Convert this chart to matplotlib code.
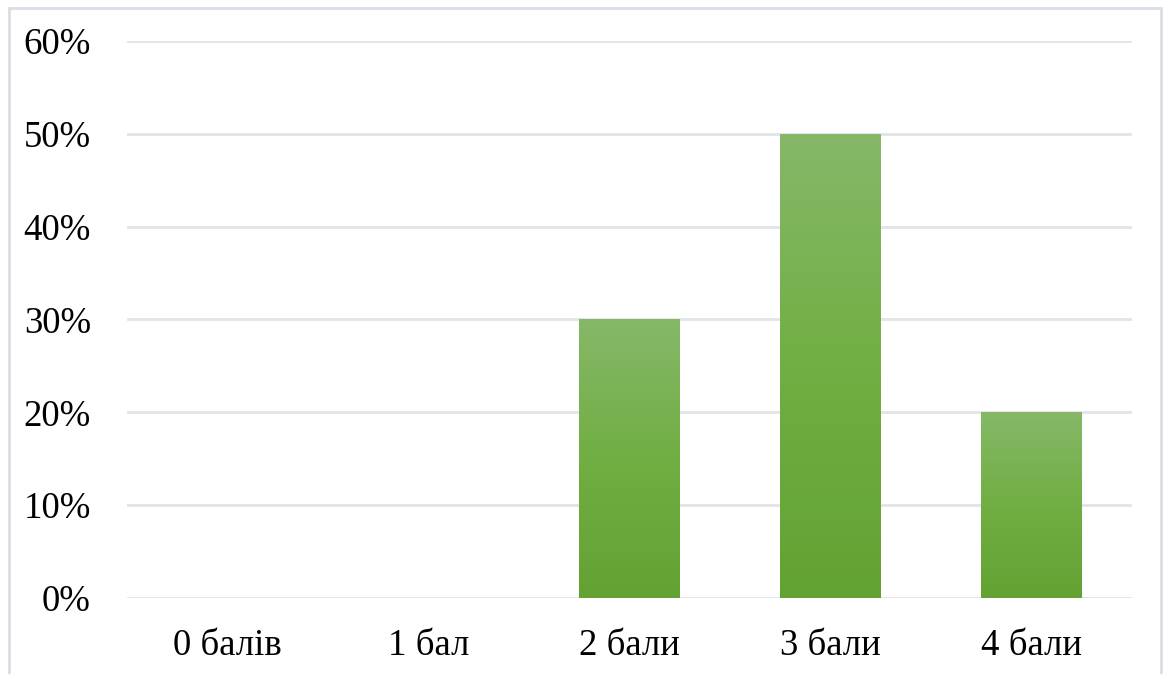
import matplotlib.pyplot as plt
import numpy as np
from matplotlib.patches import Rectangle
from matplotlib.colors import LinearSegmentedColormap
from matplotlib.ticker import PercentFormatter

categories = ['0 балів', '1 бал', '2 бали', '3 бали', '4 бали']
shares = [0, 0, 30, 50, 20]
y_ticks = [0, 10, 20, 30, 40, 50, 60]

plt.rcParams['font.family'] = ['Liberation Serif', 'DejaVu Serif']

fig = plt.figure(figsize=(11.66, 6.74), dpi=100)
ax = fig.add_axes([0.1089, 0.1128, 0.8619, 0.8264])

# light frame around the whole chart
fig.patches.append(Rectangle((9 / 1166, -0.02), (1161 - 9) / 1166, 1.02 - 8 / 674,
                             transform=fig.transFigure, fill=False,
                             edgecolor='#D9DEE5', linewidth=2))

x = np.arange(len(categories))
bars = ax.bar(x, shares, width=0.5, color='#72AF45', zorder=2)

# vertical gradient inside each bar: lighter at the top, darker at the base
green = LinearSegmentedColormap.from_list('green', ['#62A232', '#71AE43', '#86B868'])
grad = np.linspace(0, 1, 256).reshape(-1, 1)
for b in bars:
    if b.get_height() <= 0:
        continue
    x0, w, h = b.get_x(), b.get_width(), b.get_height()
    im = ax.imshow(grad, cmap=green, aspect='auto', origin='lower',
                   extent=[x0, x0 + w, 0, h], zorder=3)
    im.set_clip_path(b)

ax.set_xlim(-0.5, len(categories) - 0.5)
ax.set_ylim(0, 60)
ax.set_yticks(y_ticks)
ax.yaxis.set_major_formatter(PercentFormatter(decimals=0))
ax.set_xticks(x)
ax.set_xticklabels(categories)

ax.yaxis.grid(True, color='#E1E4E9', linewidth=2, zorder=0)
ax.set_axisbelow(True)
for s in ax.spines.values():
    s.set_visible(False)
ax.tick_params(length=0, labelsize=26.5, colors='black')
ax.tick_params(axis='y', pad=26)
ax.tick_params(axis='x', pad=22)

fig.savefig('out.png', dpi=100)
